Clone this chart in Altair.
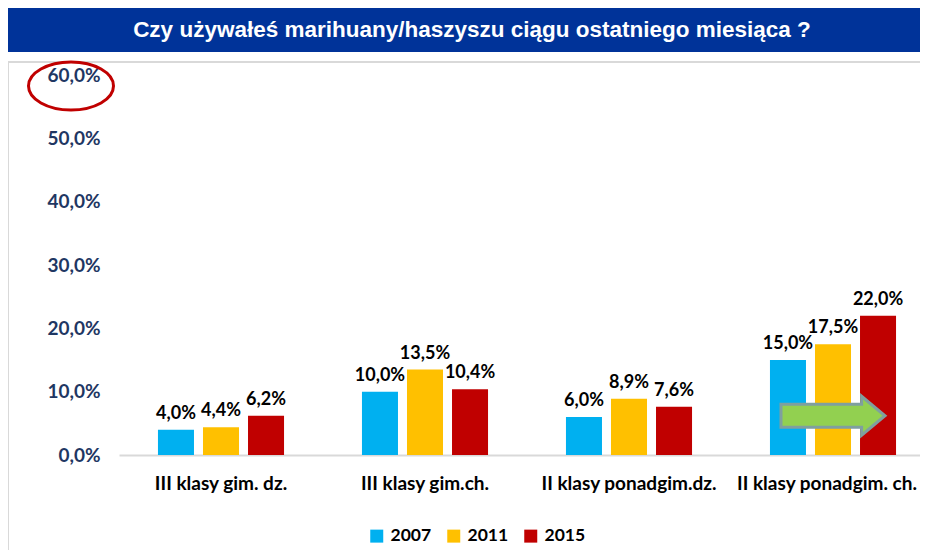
import altair as alt
import pandas as pd

# ---- data ----
categories = ["III klasy gim. dz.", "III klasy gim.ch.", "II klasy ponadgim.dz.", "II klasy ponadgim. ch."]
years = ["2007", "2011", "2015"]
v2007 = [4.0, 10.0, 6.0, 15.0]
v2011 = [4.4, 13.5, 8.9, 17.5]
v2015 = [6.2, 10.4, 7.6, 22.0]
colors = ["#00B0F0", "#FFC000", "#C00000"]
y_ticks = [0, 10, 20, 30, 40, 50, 60]
title_text = "Czy  używałeś marihuany/haszyszu ciągu ostatniego miesiąca ?"

# green arrow annotation (placed in data space)
arrow_category = "II klasy ponadgim. ch."
arrow_year = "2011"
arrow_level = 6.2

rows = []
for yr, vals in zip(years, [v2007, v2011, v2015]):
    for c, v in zip(categories, vals):
        rows.append({"kategoria": c, "rok": yr, "wartosc": v,
                     "etykieta": f"{v:.1f}".replace(".", ",") + "%"})
df = pd.DataFrame(rows)
arrow_df = pd.DataFrame([{"kategoria": arrow_category, "rok": arrow_year, "wartosc": arrow_level}])

FONT = "Lato"

x_enc = alt.X(
    "kategoria:N", sort=categories,
    scale=alt.Scale(range=[0, 816], paddingInner=0.382, paddingOuter=0.191),
    axis=alt.Axis(title=None, labelAngle=0, labelFont=FONT, labelFontSize=19,
                  labelFontWeight="bold", labelColor="black", labelPadding=19,
                  labelOffset={"condition": {"test": f"datum.value === '{categories[-1]}'", "value": -6},
                               "value": 0},
                  ticks=False, domainColor="#d9d9d9", domainWidth=2, labelLimit=400),
)
xoff_enc = alt.XOffset("rok:N", sort=years, scale=alt.Scale(paddingInner=0.2, paddingOuter=0))
y_enc = alt.Y(
    "wartosc:Q", scale=alt.Scale(domain=[0, 60], nice=False),
    axis=alt.Axis(title=None, values=y_ticks,
                  labelExpr="replace(format(datum.value, '.1f'), '.', ',') + '%'",
                  labelFont=FONT, labelFontSize=19, labelFontWeight="bold",
                  labelColor="#1F3763", labelPadding=19, ticks=False, domain=False, grid=False),
)
color_enc = alt.Color(
    "rok:N", sort=years, scale=alt.Scale(domain=years, range=colors),
    legend=alt.Legend(title=None, orient="none", legendX=249, legendY=452,
                      direction="horizontal", symbolType="square", symbolSize=169,
                      symbolStrokeWidth=0, labelFont=FONT, labelFontSize=17.5,
                      labelFontWeight="bold", labelColor="black", columnPadding=13,
                      labelOffset=5),
)

one = alt.Data(values=[{}])

banner = alt.Chart(one).mark_rect(color="#003399").encode(
    x=alt.value(-115), x2=alt.value(820), y=alt.value(-67), y2=alt.value(-23))
title = alt.Chart(one).mark_text(
    text=title_text, font="Liberation Sans", fontSize=22.5, fontWeight="bold",
    color="white", align="center", baseline="middle").encode(
    x=alt.value(353), y=alt.value(-45))
frame = alt.Chart(one).mark_rect(fillOpacity=0, stroke="#d9d9d9", strokeWidth=2).encode(
    x=alt.value(-111), x2=alt.value(900), y=alt.value(-13), y2=alt.value(600))

bars = alt.Chart(df).mark_bar().encode(x=x_enc, xOffset=xoff_enc, y=y_enc, color=color_enc)
labels = alt.Chart(df).mark_text(
    font=FONT, fontSize=18, fontWeight="bold", color="black",
    baseline="alphabetic", dy=-11).encode(
    x=x_enc, xOffset=xoff_enc, y=y_enc, text="etykieta:N")

arrow_path = "M -1 -0.22 L 0.55 -0.22 L 0.55 -0.375 L 1 0 L 0.55 0.375 L 0.55 0.22 L -1 0.22 Z"
arrow = alt.Chart(arrow_df).mark_point(
    shape=arrow_path, size=10816, filled=True, fill="#92D050", stroke="#7F9F9F",
    strokeWidth=3, opacity=1).encode(x=x_enc, xOffset=xoff_enc, y=y_enc)

ellipse_path = "M -1 0 A 1 0.565 0 1 1 1 0 A 1 0.565 0 1 1 -1 0 Z"
ellipse = alt.Chart(one).mark_point(
    shape=ellipse_path, size=7225, filled=False, color="#C00000",
    strokeWidth=3, opacity=1).encode(x=alt.value(-48), y=alt.value(11))

chart = alt.layer(frame, banner, title, bars, labels, arrow, ellipse).properties(
    width=801, height=380,
    autosize=alt.AutoSizeParams(type="none"),
    padding={"left": 111, "top": 67, "right": 0, "bottom": 95},
    background="white",
).configure_view(stroke=None)

chart.save("out.html", embed_options={"renderer": "svg", "actions": False})
